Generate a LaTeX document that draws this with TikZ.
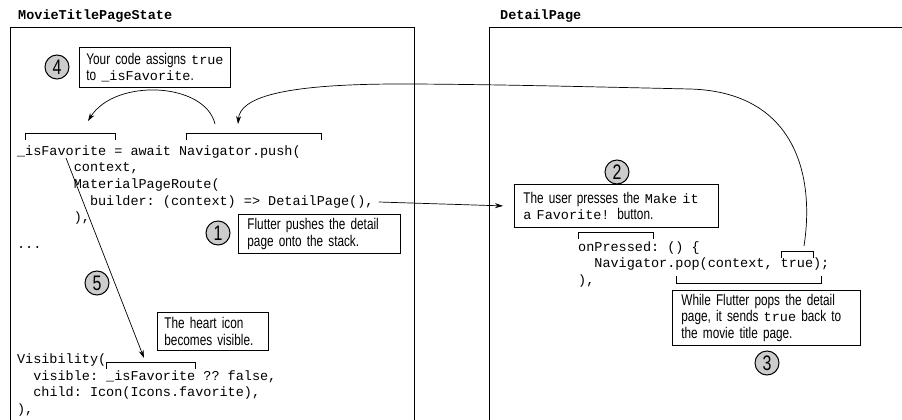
\documentclass[tikz,border=0pt]{standalone}
\usepackage{fontspec}
\setmonofont{Liberation Mono}
\newfontfamily\notefont[FakeStretch=0.76]{Liberation Sans}
\usetikzlibrary{arrows.meta,positioning}
\newcommand{\mono}[1]{{\ttfamily\fontsize{13.5pt}{16pt}\selectfont #1}}

\begin{document}
\begin{tikzpicture}[x=1pt, y=-1pt,
    frm/.style={line width=0.9pt},
    code/.style={anchor=base west, inner sep=0pt, font=\ttfamily\fontsize{13.5pt}{16pt}\selectfont},
    ttl/.style={anchor=base west, inner sep=0pt, font=\ttfamily\bfseries\fontsize{13.5pt}{16pt}\selectfont},
    note/.style={draw, line width=0.8pt, anchor=north west, align=left, inner xsep=8pt, inner ysep=0pt,
      font=\notefont\fontsize{15.5pt}{16.5pt}\selectfont},
    num/.style={draw, circle, line width=1pt, fill=black!20, minimum size=24pt, inner sep=0pt,
      font=\notefont\fontsize{21pt}{21pt}\selectfont},
    brk/.style={line width=0.8pt},
    ar/.style={-{Stealth[length=8pt,width=5pt]}, line width=0.7pt},
  ]
  \useasboundingbox (0,0) rectangle (902,420);

  % frames
  \node[ttl] (titleL) at (18,19.5) {MovieTitlePageState};
  \node[ttl] (titleR) at (500,19.5) {DetailPage};
  \draw[frm] (10,421) -- (10,27) -- (414,27) -- (414,421);
  \draw[frm] (489,421) -- (489,27) -- (903,27);

  % left code
  \node[code] (favLine)     at (16.9,155.5) {\_isFavorite = await Navigator.push(};
  \node[code] (ctxLine)     at (73.6,171.5) {context,};
  \node[code] (routeLine)   at (73.6,188.5) {MaterialPageRoute(};
  \node[code] (builderLine) at (89.8,205.5) {builder: (context) => DetailPage(),};
  \node[code] (routeClose)  at (73.6,221.5) {),};
  \node[code] (dotsLine)    at (16.9,248)   {...};
  \node[code] (visLine)     at (16.9,363.5) {Visibility(};
  \node[code] (visibleLine) at (33.1,380)   {visible: \_isFavorite ?? false,};
  \node[code] (childLine)   at (33.1,396.5) {child: Icon(Icons.favorite),};
  \node[code] (visClose)    at (16.9,413)   {),};

  % right code
  \node[code] (pressLine) at (578,251.5) {onPressed: () \{};
  \node[code] (popLine)   at (594.2,267.5) {Navigator.pop(context, true);};
  \node[code] (popClose)  at (578,284.5) {),};

  % brackets
  \draw[brk] (25,140) -- (25,133) -- (115,133) -- (115,140);
  \draw[brk] (186,140) -- (186,133) -- (321,133) -- (321,140);
  \draw[brk] (106,369) -- (106,362) -- (195,362) -- (195,369);
  \draw[brk] (578,239) -- (578,232) -- (653,232) -- (653,239);
  \draw[brk] (781,258) -- (781,251) -- (813,251) -- (813,258);
  \draw[brk] (676,276) -- (676,283) -- (821,283) -- (821,276);

  % notes
  \node[note, inner xsep=7pt, text width=137pt, minimum height=40pt] (note4) at (79,47)
    {\mbox{Your code assigns \mono{true}}\\to \mono{\_isFavorite}.};
  \node[note, inner xsep=9pt, text width=144pt, minimum height=39pt] (note1) at (238,214)
    {\mbox{Flutter pushes the detail}\\page onto the stack.};
  \node[note, inner xsep=7pt, text width=97pt, minimum height=38pt] (note5) at (157,312)
    {The heart icon\\\mbox{becomes visible.}};
  \node[note, inner xsep=9pt, text width=186pt, minimum height=43pt] (note2) at (514,184)
    {\mbox{The user presses the \mono{Make it}}\\\mono{a Favorite!} button.};
  \node[note, inner xsep=9pt, text width=170pt, minimum height=55pt] (note3) at (672,290)
    {\mbox{While Flutter pops the detail}\\\mbox{page, it sends \mono{true} back to}\\the movie title page.};

  % steps
  \node[num] (step4) at (57,67)   {4};
  \node[num] (step1) at (218,233) {1};
  \node[num] (step5) at (97,283)  {5};
  \node[num] (step2) at (617,172) {2};
  \node[num] (step3) at (767,363) {3};

  % connectors
  \coordinate (navFrom) at (215,124);
  \coordinate (favTo)   at (88,121);
  \coordinate (navTo)   at (238,124);
  \coordinate (trueFrom) at (804,246);
  \coordinate (favFrom) at (66,158);
  \coordinate (visTo)   at (144,358);

  \draw[ar] ([xshift=5pt]builderLine.east) -- ([xshift=-11pt]note2.west);
  \draw[ar] (navFrom) .. controls (205,82) and (115,78) .. (favTo);
  \draw[ar] (trueFrom) .. controls (815,175) and (795,92) .. (690,89)
    .. controls (600,87) and (480,84) .. (400,84)
    .. controls (280,84) and (240,98) .. (navTo);
  \draw[ar] (favFrom) -- (visTo);
\end{tikzpicture}
\end{document}
